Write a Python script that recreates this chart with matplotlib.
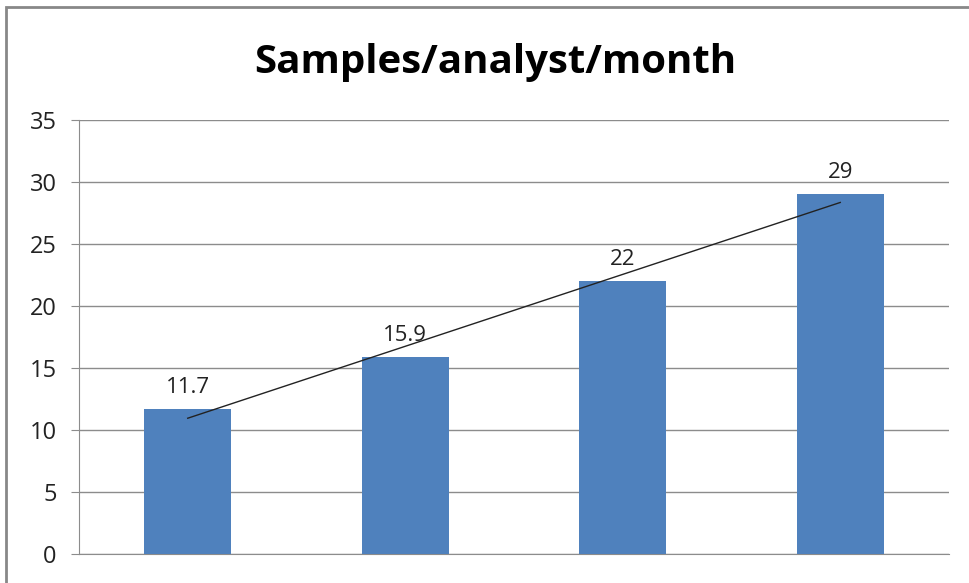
import numpy as np
import matplotlib
matplotlib.use("Agg")
import matplotlib.pyplot as plt
from matplotlib.patches import Rectangle

categories = [1, 2, 3, 4]
values = [11.7, 15.9, 22, 29]
labels = ["11.7", "15.9", "22", "29"]
yticks = [0, 5, 10, 15, 20, 25, 30, 35]

plt.rcParams['font.family'] = ['Open Sans', 'DejaVu Sans']

fig = plt.figure(figsize=(9.69, 5.83), dpi=100)
# outer frame (cut at right and bottom like the reference)
fig.patches.append(Rectangle((6/969, -0.05), 1.2, 1 - 7/583 + 0.05, transform=fig.transFigure,
                             fill=False, edgecolor='#888888', linewidth=2))

ax = fig.add_axes([79/969, 1-554/583, (949-79)/969, (554-120)/583])
x = np.array(categories)
ax.bar(x, values, width=0.4, color='#4F81BD', zorder=3)
for xi, v, lab in zip(x, values, labels):
    ax.annotate(lab, (xi, v), xytext=(0, 8), textcoords='offset points',
                ha='center', va='bottom', fontsize=16, color='#222222')

coef = np.polyfit(x, values, 1)
ax.plot([x[0], x[-1]], np.polyval(coef, [x[0], x[-1]]), color='#222222', linewidth=1, zorder=4)

ax.set_xlim(0.5, 4.5)
ax.set_ylim(0, 35)
ax.set_yticks(yticks)
ax.set_xticks([])
ax.yaxis.grid(True, color='#8c8c8c', linewidth=1)
ax.set_axisbelow(True)
for s in ['top', 'right']:
    ax.spines[s].set_visible(False)
ax.spines['left'].set_color('#8c8c8c')
ax.spines['bottom'].set_color('#8c8c8c')
ax.tick_params(axis='y', length=6, color='#8c8c8c', labelsize=17, labelcolor='#222222', pad=10)

fig.text(495/969, 1-62/583, 'Samples/analyst/month', ha='center', va='center',
         fontsize=29, fontweight='bold', color='black')

fig.savefig('out.png', dpi=100)
